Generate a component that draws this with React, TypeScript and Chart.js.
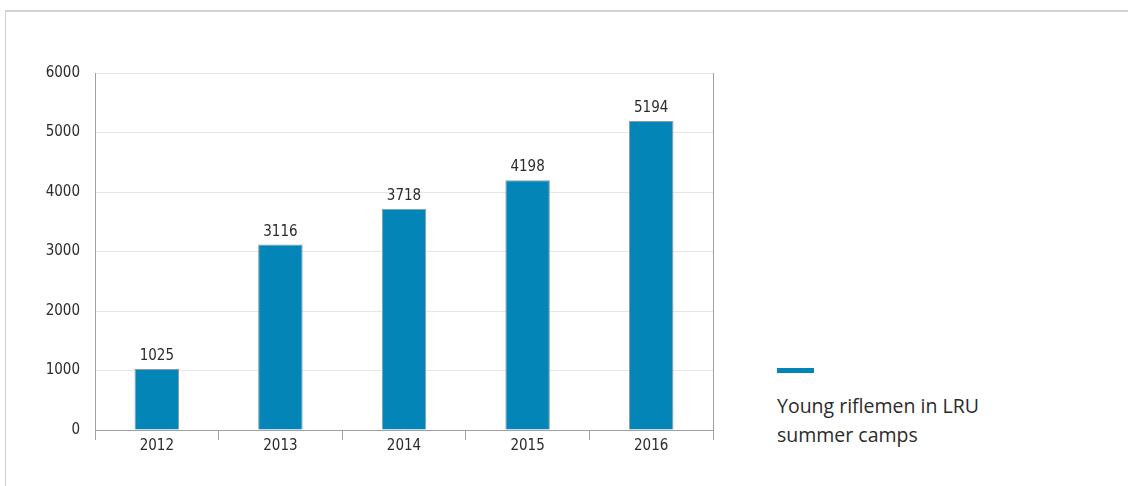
import React, { useEffect, useRef } from "react";
import { Chart, registerables } from "chart.js";

Chart.register(...registerables);

const categories = ["2012", "2013", "2014", "2015", "2016"];
const values = [1025, 3116, 3718, 4198, 5194];
const yTicks = [0, 1000, 2000, 3000, 4000, 5000, 6000];
const seriesName = "Young riflemen in LRU summer camps";

const BAR_COLOR = "#0385b8";
const AXIS_COLOR = "#a0a0a0";
const GRID_COLOR = "#e6e6e6";
const FONT = "'Liberation Sans Narrow', 'DejaVu Sans Condensed', 'Noto Sans', sans-serif";

const labelPlugin = {
  id: "valueLabels",
  afterDatasetsDraw(chart: any) {
    const ctx = chart.ctx;
    const meta = chart.getDatasetMeta(0);
    ctx.save();
    ctx.font = `15px ${FONT}`;
    ctx.fillStyle = "#2b2b2b";
    ctx.textAlign = "center";
    ctx.textBaseline = "alphabetic";
    meta.data.forEach((bar: any, i: number) => {
      ctx.fillText(String(values[i]), bar.x, bar.y - 9);
    });
    ctx.restore();
  },
};

export default function App() {
  const ref = useRef<HTMLCanvasElement>(null);
  useEffect(() => {
    if (!ref.current) return;
    const chart = new Chart(ref.current, {
      type: "bar",
      data: {
        labels: categories,
        datasets: [
          {
            label: seriesName,
            data: values,
            backgroundColor: BAR_COLOR,
            borderColor: "#8c9ca8",
            borderWidth: 1,
            barPercentage: 0.36,
            categoryPercentage: 1,
          },
        ],
      },
      options: {
        animation: false,
        responsive: false,
        maintainAspectRatio: false,
        layout: { padding: { top: 73, left: 0, right: 7, bottom: 0 } },
        plugins: { legend: { display: false }, tooltip: { enabled: false } },
        scales: {
          x: {
            offset: true,
            grid: {
              offset: true,
              drawOnChartArea: false,
              drawTicks: true,
              tickLength: 10,
              color: AXIS_COLOR,
            },
            border: { display: true, color: AXIS_COLOR },
            ticks: {
              color: "#2b2b2b",
              font: { family: FONT, size: 15 },
              padding: -3,
            },
            afterFit(scale: any) {
              scale.height = 56;
            },
          },
          y: {
            min: 0,
            max: 6000,
            afterBuildTicks(scale: any) {
              scale.ticks = yTicks.map((v) => ({ value: v }));
            },
            grid: { color: GRID_COLOR, drawTicks: false },
            border: { display: true, color: AXIS_COLOR },
            ticks: {
              color: "#2b2b2b",
              font: { family: FONT, size: 15 },
              padding: 15,
              callback: (v: any) => String(v),
            },
            afterFit(scale: any) {
              scale.width = 95;
            },
          },
          y2: {
            position: "right",
            min: 0,
            max: 6000,
            grid: { display: false, drawTicks: false },
            border: { display: true, color: AXIS_COLOR },
            ticks: { display: false },
            afterFit(scale: any) {
              scale.width = 0;
            },
          },
        },
      },
      plugins: [labelPlugin],
    } as any);
    return () => chart.destroy();
  }, []);

  return (
    <div
      style={{
        position: "absolute",
        left: 0,
        top: 0,
        width: 1128,
        height: 486,
        background: "#fff",
        overflow: "hidden",
      }}
    >
      <div
        style={{
          position: "absolute",
          left: 5,
          top: 10,
          width: 1123,
          height: 476,
          borderTop: "2px solid #d2d2d2",
          borderLeft: "1.5px solid #d2d2d2",
          boxSizing: "border-box",
        }}
      />
      <canvas
        ref={ref}
        width={720}
        height={486}
        style={{ position: "absolute", left: 0, top: 0, width: 720, height: 486 }}
      />
      <div
        style={{
          position: "absolute",
          left: 777,
          top: 368,
          width: 37,
          height: 5,
          background: BAR_COLOR,
        }}
      />
      <div
        style={{
          position: "absolute",
          left: 777,
          top: 391,
          width: 260,
          fontFamily: "'Open Sans', sans-serif",
          fontSize: 19.5,
          lineHeight: "29px",
          color: "#2b2b2b",
        }}
      >
        Young riflemen in LRU
        <br />
        summer camps
      </div>
    </div>
  );
}
